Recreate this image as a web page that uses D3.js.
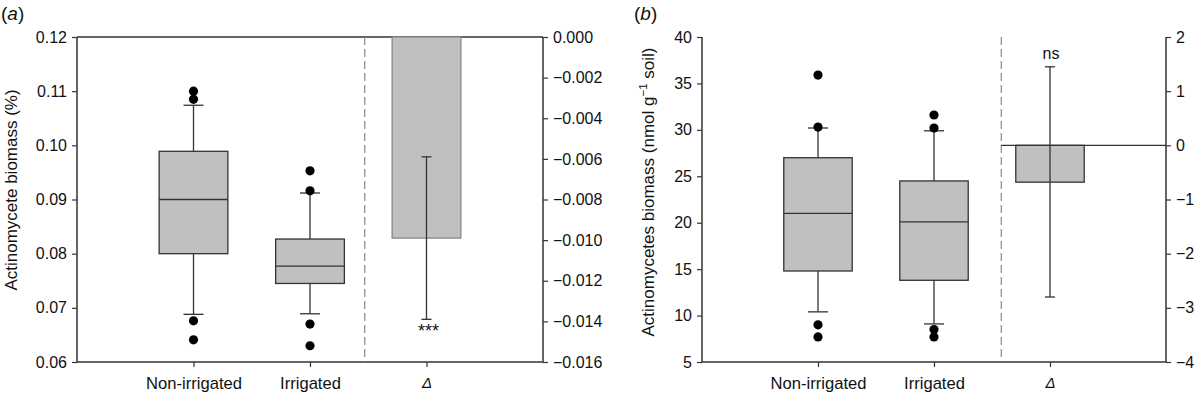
<!DOCTYPE html>
<html><head><meta charset="utf-8">
<script src="https://cdn.jsdelivr.net/npm/d3@7"></script>
<style>body{margin:0;background:#fff}svg{display:block;font-family:"Liberation Sans",Arial,sans-serif}</style>
</head><body><svg id="c" width="1200" height="397"></svg>
<script>
const categories = ["Non-irrigated", "Irrigated", "Δ"];
// Panel (a): actinomycete biomass (%)
const aBoxes = [
  {cat:"Non-irrigated", lo:0.0688, q1:0.0800, med:0.0900, q3:0.0989, hi:0.1074, out:[0.1100,0.1085,0.0676,0.0641]},
  {cat:"Irrigated",     lo:0.0689, q1:0.0745, med:0.0777, q3:0.0827, hi:0.0912, out:[0.0953,0.0916,0.0670,0.0630]}
];
const aDelta = {mean:-0.0099, lo:-0.0139, hi:-0.0059, label:"***"};
const aLeftTicks = [0.06,0.07,0.08,0.09,0.10,0.11,0.12];
const aRightTicks = [0,-0.002,-0.004,-0.006,-0.008,-0.010,-0.012,-0.014,-0.016];
// Panel (b): actinomycetes biomass (nmol g-1 soil)
const bBoxes = [
  {cat:"Non-irrigated", lo:10.4, q1:14.8, med:21.0, q3:27.0, hi:30.2, out:[35.9,30.3,9.0,7.7]},
  {cat:"Irrigated",     lo:9.1,  q1:13.8, med:20.1, q3:24.5, hi:29.9, out:[31.6,30.2,8.5,7.7]}
];
const bDelta = {mean:-0.68, lo:-2.8, hi:1.45, label:"ns"};
const bLeftTicks = [5,10,15,20,25,30,35,40];
const bRightTicks = [-4,-3,-2,-1,0,1,2];

const svg = d3.select("#c");
const C = "#333", FILL = "#c0c0c0";
const minus = s => s.replace("-", "\u2212");

function panel(o){
  const g = svg.append("g");
  const top=37, bot=362;
  const x = d3.scalePoint().domain(categories).range([o.x0,o.x1]).padding(1);
  const yL = d3.scaleLinear().domain(o.lDom).range([bot,top]);
  const yR = d3.scaleLinear().domain(o.rDom).range([bot,top]);
  const bw = x.step()*0.59, cw = 20, ecw = 10;

  const la = g.append("g").attr("transform",`translate(${o.x0},0)`)
    .call(d3.axisLeft(yL).tickValues(o.lTicks).tickFormat(o.lFmt).tickSize(5).tickPadding(5));
  const ra = g.append("g").attr("transform",`translate(${o.x1},0)`)
    .call(d3.axisRight(yR).tickValues(o.rTicks).tickFormat(o.rFmt).tickSize(5).tickPadding(5));
  const ba = g.append("g").attr("transform",`translate(0,${bot})`)
    .call(d3.axisBottom(x).tickSize(5).tickPadding(10));
  [la,ra,ba].forEach(a=>{
    a.select(".domain").remove();
    a.selectAll(".tick line").attr("stroke",C).attr("stroke-width",1.2);
    a.selectAll("text").attr("font-size",16).attr("fill","#111");
  });
  ba.selectAll("text").attr("dy","0.71em").attr("font-size",16.6);
  ba.selectAll(".tick text").filter(d=>d==="Δ").attr("font-style","italic").attr("font-size",15);
  g.append("line").attr("x1",o.x0).attr("x2",o.x0).attr("y1",top).attr("y2",bot).attr("stroke",C).attr("stroke-width",1.5);
  g.append("line").attr("x1",o.x1).attr("x2",o.x1).attr("y1",top).attr("y2",bot).attr("stroke",C).attr("stroke-width",1.5);
  g.append("line").attr("x1",o.x0).attr("x2",o.x1).attr("y1",bot).attr("y2",bot).attr("stroke",C).attr("stroke-width",1.5);
  if(o.topLine) g.append("line").attr("x1",o.x0).attr("x2",o.x1).attr("y1",top).attr("y2",top).attr("stroke",C).attr("stroke-width",1.5);

  const sx = x("Irrigated") + x.step()*o.sepFrac;
  g.append("line").attr("x1",sx).attr("x2",sx).attr("y1",top).attr("y2",o.sepBot)
    .attr("stroke","#888").attr("stroke-width",1.2).attr("stroke-dasharray","8,4");

  o.boxes.forEach(b=>{
    const cx = x(b.cat);
    const bg = g.append("g");
    bg.append("line").attr("x1",cx).attr("x2",cx).attr("y1",yL(b.hi)).attr("y2",yL(b.q3)).attr("stroke",C).attr("stroke-width",1.3);
    bg.append("line").attr("x1",cx).attr("x2",cx).attr("y1",yL(b.q1)).attr("y2",yL(b.lo)).attr("stroke",C).attr("stroke-width",1.3);
    [b.hi,b.lo].forEach(v=>bg.append("line").attr("x1",cx-cw/2).attr("x2",cx+cw/2).attr("y1",yL(v)).attr("y2",yL(v)).attr("stroke",C).attr("stroke-width",1.3));
    bg.append("rect").attr("x",cx-bw/2).attr("width",bw).attr("y",yL(b.q3)).attr("height",yL(b.q1)-yL(b.q3))
      .attr("fill",FILL).attr("stroke",C).attr("stroke-width",1.3);
    bg.append("line").attr("x1",cx-bw/2).attr("x2",cx+bw/2).attr("y1",yL(b.med)).attr("y2",yL(b.med)).attr("stroke",C).attr("stroke-width",1.3);
    bg.selectAll("circle").data(b.out).join("circle").attr("cx",cx).attr("cy",d=>yL(d)).attr("r",4.6).attr("fill","#000");
  });

  const dx = x("Δ"), d = o.delta;
  if(o.zeroLine) g.append("line").attr("x1",sx).attr("x2",o.x1).attr("y1",yR(0)).attr("y2",yR(0)).attr("stroke",C).attr("stroke-width",1.3);
  g.append("rect").attr("x",dx-bw/2).attr("width",bw).attr("y",yR(0)).attr("height",yR(d.mean)-yR(0))
    .attr("fill",FILL).attr("stroke",o.barStroke).attr("stroke-width",1.3);
  g.append("line").attr("x1",dx).attr("x2",dx).attr("y1",yR(d.hi)).attr("y2",yR(d.lo)).attr("stroke",C).attr("stroke-width",1.3);
  [d.hi,d.lo].forEach(v=>g.append("line").attr("x1",dx-ecw/2).attr("x2",dx+ecw/2).attr("y1",yR(v)).attr("y2",yR(v)).attr("stroke",C).attr("stroke-width",1.3));
  if(o.labelBelow){
    g.append("text").attr("x",dx+2).attr("y",yR(d.lo)+18).attr("text-anchor","middle").attr("font-size",18).attr("fill","#111").text(d.label);
  } else {
    g.append("text").attr("x",dx+1).attr("y",yR(d.hi)-8).attr("text-anchor","middle").attr("font-size",16).attr("fill","#111").text(d.label);
  }

  const t = g.append("text").attr("transform",`translate(${o.titleX},${o.titleY}) rotate(-90)`)
    .attr("text-anchor","middle").attr("font-size",17).attr("fill","#111");
  o.title(t);
  const pl = g.append("text").attr("x",o.letterX).attr("y",20).attr("font-size",19).attr("fill","#111");
  pl.append("tspan").text("(");
  pl.append("tspan").attr("font-style","italic").text(o.letter);
  pl.append("tspan").text(")");
}

panel({x0:77, x1:543, lDom:[0.06,0.12], rDom:[-0.016,0], lTicks:aLeftTicks, rTicks:aRightTicks,
  lFmt:d3.format(".2f"), rFmt:v=>minus(d3.format(".3f")(v)),
  boxes:aBoxes, delta:aDelta, topLine:true, zeroLine:false, sepFrac:0.47, sepBot:362, barStroke:"#888",
  labelBelow:true, titleX:17, titleY:190, letter:"a", letterX:1,
  title:t=>t.text("Actinomycete biomass (%)")});

panel({x0:702, x1:1166, lDom:[5,40], rDom:[-4,2], lTicks:bLeftTicks, rTicks:bRightTicks,
  lFmt:d3.format("d"), rFmt:v=>minus(d3.format("d")(v)),
  boxes:bBoxes, delta:bDelta, topLine:false, zeroLine:true, sepFrac:0.58, sepBot:357, barStroke:C,
  labelBelow:false, titleX:654, titleY:192, letter:"b", letterX:634,
  title:t=>{t.append("tspan").text("Actinomycetes biomass (nmol g");
    t.append("tspan").attr("font-size",11.5).attr("dy",-7).text("\u22121");
    t.append("tspan").attr("dy",7).text(" soil)");}});
</script></body></html>
